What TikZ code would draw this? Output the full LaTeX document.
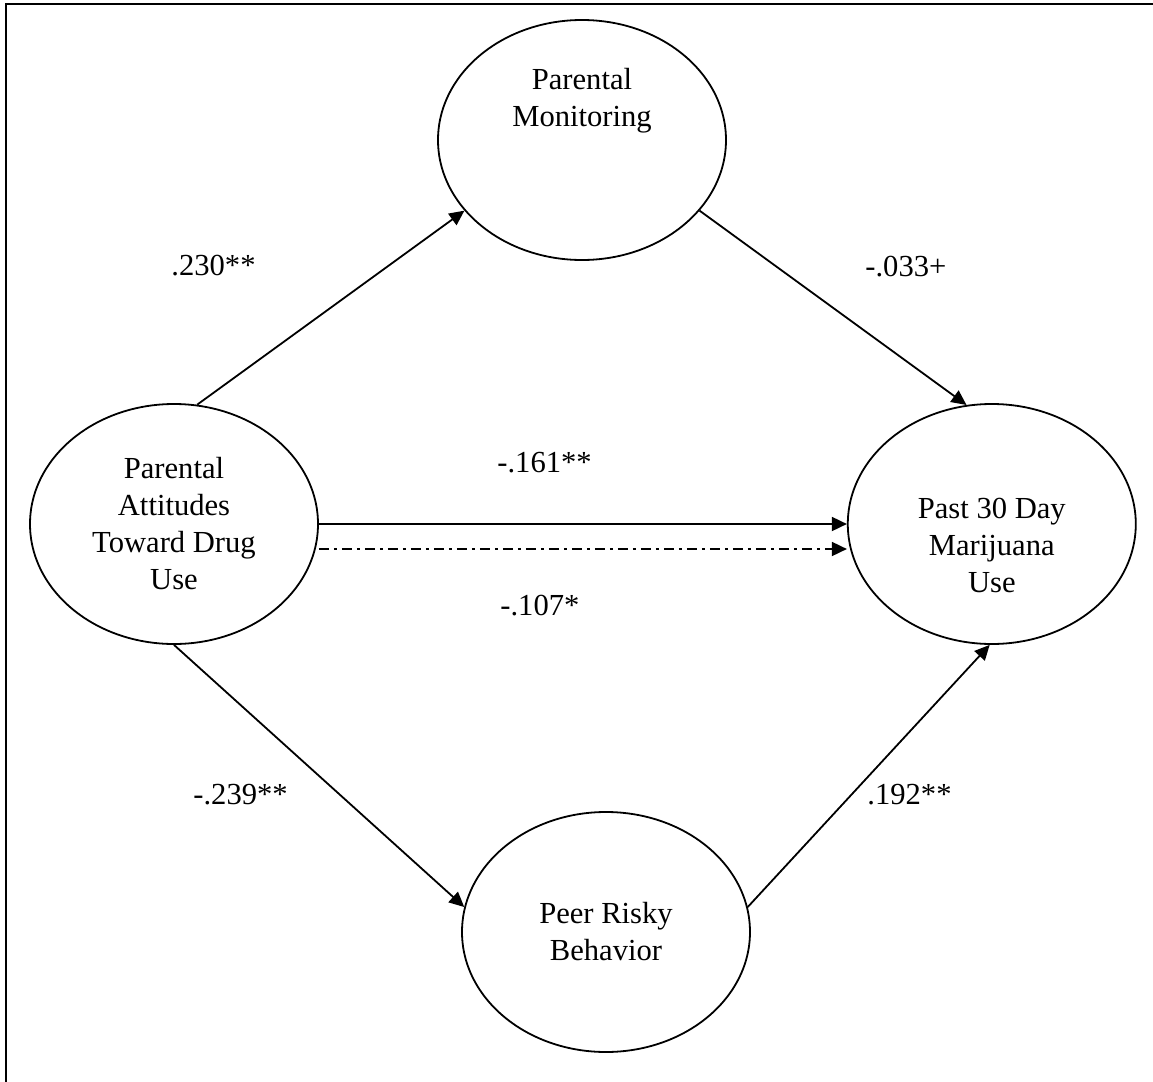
\documentclass[tikz,border=0pt]{standalone}
\usepackage{fontspec}
\setmainfont{Liberation Serif}
\usepackage{tikz}
\usetikzlibrary{arrows.meta,positioning,shapes.geometric}

\begin{document}
\begin{tikzpicture}[x=0.5pt,y=-0.5pt,font=\fontsize{15.3pt}{18.5pt}\selectfont,
  >={Triangle[length=7.5pt,width=7pt]},
  var/.style={draw,ellipse,line width=0.9pt,minimum width=144pt,minimum height=120pt,inner sep=0pt,align=center},
  link/.style={->,line width=0.9pt},
  dashdotline/.style={dash pattern=on 5pt off 2.5pt on 1.5pt off 2.5pt},
  coef/.style={anchor=base west,inner sep=0pt}]
  \useasboundingbox (0,0) rectangle (1153,1082);
  \draw[line width=1.1pt] (6,1082) -- (6,4) -- (1153,4);

  \node[var] (att) at (174,524) {Parental\\Attitudes\\Toward Drug\\Use};
  \node[var,right=264pt of att] (past) {\strut\\Past 30 Day\\Marijuana\\Use};
  \node[var] (mon) at (582,140) {Parental\\Monitoring\\\strut\\\strut};
  \node[var] (peer) at (606,932) {Peer Risky\\Behavior};

  \draw[link] (att.79) -- (mon.211);
  \draw[link] (mon.329) -- (past.102);
  \draw[link] (att.east) -- (past.west);
  \draw[link,dashdotline] ([yshift=-12.5pt]att.east) -- ([yshift=-12.5pt]past.west);
  \draw[link] (att.south) -- (peer.170);
  \draw[link] (peer.10) -- (past.269);

  \node[coef] (c230) at (171,275) {.230**};
  \node[coef] (c033) at (865,276) {-.033+};
  \node[coef] (c161) at (497,472) {-.161**};
  \node[coef] (c107) at (500,615) {-.107*};
  \node[coef] (c239) at (193,804) {-.239**};
  \node[coef] (c192) at (867,804) {.192**};
\end{tikzpicture}
\end{document}
